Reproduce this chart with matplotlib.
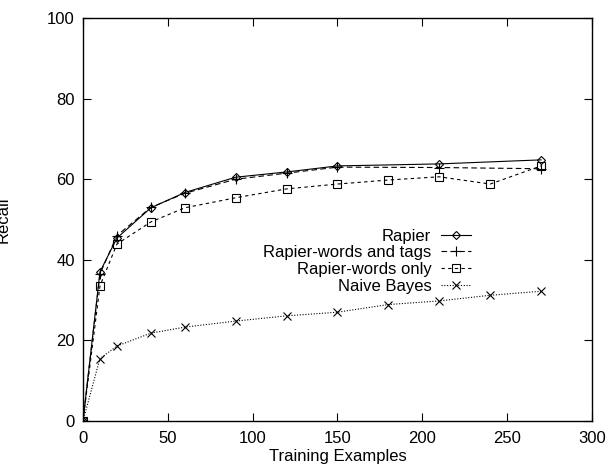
import matplotlib
matplotlib.use("Agg")
import matplotlib.pyplot as plt

plt.rcParams['font.family'] = ['Liberation Sans', 'DejaVu Sans']

# training set sizes
x_rapier = [0, 10, 20, 40, 60, 90, 120, 150, 210, 270]
x_tags = [0, 10, 20, 40, 60, 90, 120, 150, 210, 270]
x_words = [0, 10, 20, 40, 60, 90, 120, 150, 180, 210, 240, 270]
x_bayes = [0, 10, 20, 40, 60, 90, 120, 150, 180, 210, 240, 270]

# recall values
rapier = [0, 37.0, 45.4, 52.9, 56.7, 60.5, 61.8, 63.3, 63.8, 64.8]
rapier_tags = [0, 36.5, 46.0, 53.0, 56.5, 60.0, 61.5, 63.0, 62.9, 62.6]
rapier_words = [0, 33.5, 43.9, 49.4, 52.9, 55.4, 57.6, 58.8, 59.8, 60.6, 58.8, 63.3]
naive_bayes = [0, 15.5, 18.6, 21.8, 23.3, 24.8, 26.1, 27.0, 28.9, 29.8, 31.2, 32.2]

fig = plt.figure(figsize=(6.16, 4.68), dpi=100)
ax = fig.add_axes([0.1347, 0.1004, 0.8263, 0.8611])

lw = 0.8
ax.plot(x_rapier, rapier, color='black', lw=lw, linestyle='-',
        marker='D', markersize=4.5, markerfacecolor='none', markeredgewidth=0.8,
        label='Rapier')
ax.plot(x_tags, rapier_tags, color='black', lw=lw, linestyle=(0, (5, 3)),
        marker='+', markersize=7, markeredgewidth=0.8,
        label='Rapier-words and tags')
ax.plot(x_words, rapier_words, color='black', lw=lw, linestyle=(0, (3, 3)),
        marker='s', markersize=6, markerfacecolor='none', markeredgewidth=0.8,
        label='Rapier-words only')
ax.plot(x_bayes, naive_bayes, color='black', lw=lw, linestyle=(0, (1, 1.5)),
        marker='x', markersize=5.5, markeredgewidth=0.8,
        label='Naive Bayes')

ax.set_xlim(0, 300)
ax.set_ylim(0, 100)
ax.set_xticks(range(0, 301, 50))
ax.set_yticks(range(0, 101, 20))
ax.tick_params(direction='in', length=6, width=0.8, top=True, right=True,
               labelsize=12)
ax.tick_params(axis='x', pad=7)
ax.tick_params(axis='y', pad=6)
for s in ax.spines.values():
    s.set_linewidth(1.0)

ax.set_xlabel('Training Examples', fontsize=12, labelpad=2)
ax.set_ylabel('Recall', fontsize=12)
ax.yaxis.set_label_coords(-0.143, 0.5)

leg = ax.legend(loc='center right', bbox_to_anchor=(0.763, 0.397),
                markerfirst=False, frameon=False, fontsize=12,
                handlelength=1.8, handletextpad=0.6, labelspacing=0.1,
                borderaxespad=0, borderpad=0)

fig.savefig('out.png', dpi=100)
